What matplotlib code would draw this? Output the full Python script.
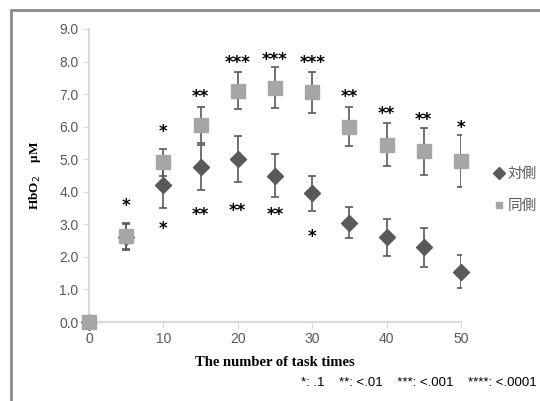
import matplotlib
matplotlib.use('Agg')
import matplotlib.pyplot as plt
from matplotlib.patches import Rectangle
from matplotlib.lines import Line2D

# task times
times = [0, 5, 10, 15, 20, 25, 30, 35, 40, 45, 50]

# contralateral (対側)
contra = [0.0, 2.6, 4.2, 4.75, 5.0, 4.5, 3.95, 3.05, 2.6, 2.3, 1.55]
contra_err = [0.0, 0.4, 0.7, 0.7, 0.7, 0.65, 0.55, 0.48, 0.57, 0.6, 0.52]

# ipsilateral (同側)
ipsi = [0.0, 2.65, 4.9, 6.05, 7.1, 7.2, 7.05, 6.0, 5.45, 5.25, 4.95]
ipsi_err = [0.0, 0.4, 0.42, 0.55, 0.57, 0.62, 0.62, 0.6, 0.65, 0.72, 0.8]

# significance marks
sig_top_x = [5, 10, 15, 20, 25, 30, 35, 40, 45, 50]
sig_top_y = [3.55, 5.85, 6.9, 7.95, 8.05, 7.95, 6.9, 6.4, 6.2, 5.95]
sig_top = ['*', '*', '**', '***', '***', '***', '**', '**', '**', '*']

sig_bot_x = [10, 15, 20, 25, 30]
sig_bot_y = [2.85, 3.3, 3.4, 3.3, 2.6]
sig_bot = ['*', '**', '**', '**', '*']

dark = '#595959'
light = '#a6a6a6'

fig = plt.figure(figsize=(5.4, 4.01), dpi=100)
fig.patches.append(Rectangle((11 / 540, -0.1), 1.2, 1 - 10 / 401 + 0.1,
                             transform=fig.transFigure, fill=False,
                             edgecolor='#8c8c8c', linewidth=2))
ax = fig.add_axes([89 / 540, 1 - 322 / 401, 372 / 540, 293 / 401])

c = ax.errorbar(times, contra, yerr=contra_err, fmt='D', color=dark, ms=8,
                ecolor=dark, elinewidth=1.2, capsize=3, capthick=1.2, zorder=2)
i = ax.errorbar(times, ipsi, yerr=ipsi_err, fmt='s', color=light, ms=10,
                ecolor=dark, elinewidth=1.2, capsize=3, capthick=1.2, zorder=3)
for art in list(c.lines[0:1]) + list(i.lines[0:1]):
    art.set_clip_on(False)

for x, y, s in zip(sig_top_x, sig_top_y, sig_top):
    ax.text(x, y, s, ha='center', va='center', fontsize=12, fontweight='bold')
for x, y, s in zip(sig_bot_x, sig_bot_y, sig_bot):
    ax.text(x, y, s, ha='center', va='center', fontsize=12, fontweight='bold')

ax.set_xlim(0, 50)
ax.set_ylim(0, 9)
ax.set_xticks(range(0, 51, 10))
ax.set_yticks([k for k in range(10)])
ax.set_yticklabels(['%.1f' % k for k in range(10)])
for sp in ['top', 'right']:
    ax.spines[sp].set_visible(False)
for sp in ['left', 'bottom']:
    ax.spines[sp].set_color('#d9d9d9')
    ax.spines[sp].set_linewidth(1.5)
ax.tick_params(colors='#d9d9d9', labelcolor='#595959', labelsize=10,
               direction='out', length=4)
for lbl in ax.get_xticklabels() + ax.get_yticklabels():
    lbl.set_family('Liberation Sans')

ax.set_xlabel('The number of task times', family='Liberation Serif',
              fontweight='bold', fontsize=10.5, labelpad=7)
ax.set_ylabel('HbO$_2$    μM', family='Liberation Serif',
              fontweight='bold', fontsize=9.5, labelpad=12)

handles = [Line2D([], [], ls='none', marker='D', color=dark, ms=6),
           Line2D([], [], ls='none', marker='s', color=light, ms=5)]
ax.legend(handles, ['対側', '同側'], loc='center left',
          bbox_to_anchor=(1.05, 0.45), frameon=False,
          prop={'family': ['Noto Sans CJK JP', 'DejaVu Sans'], 'size': 10.5},
          handletextpad=0.2, handlelength=0.8, labelcolor='#595959',
          labelspacing=1.2)

fig.text(537 / 540, 1 - 383 / 401, '*: .1    **: <.01    ***: <.001    ****: <.0001',
         ha='right', va='center', fontsize=9.5, family='Liberation Sans')

fig.savefig('out.png', dpi=100)
